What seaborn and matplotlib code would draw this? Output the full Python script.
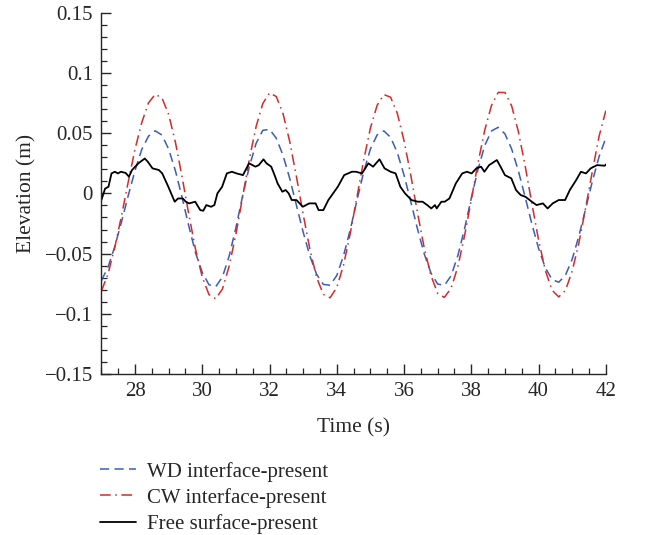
import matplotlib
matplotlib.use("Agg")
import matplotlib.pyplot as plt
from matplotlib.ticker import MultipleLocator
import pandas as pd
import seaborn as sns

# time grid of the two interface series (s)
t_wave = [27.0 + 0.2 * i for i in range(76)]

wd_interface = [
    -0.0725, -0.061, -0.044, -0.0234, -0.0016, 0.019, 0.0365, 0.0475, 0.052, 0.0485,
    0.0368, 0.0189, -0.0034, -0.0272, -0.0494, -0.0657, -0.0759, -0.0775, -0.0694, -0.052,
    -0.0285, -0.0021, 0.0223, 0.0415, 0.0524, 0.0532, 0.0459, 0.0317, 0.0125, -0.0099,
    -0.0321, -0.0521, -0.0672, -0.0756, -0.0763, -0.0682, -0.0518, -0.0302, -0.0058, 0.0177,
    0.0369, 0.0486, 0.0519, 0.0466, 0.0339, 0.0152, -0.0068, -0.0295, -0.0502, -0.0661,
    -0.0753, -0.0764, -0.0684, -0.0517, -0.0293, -0.0039, 0.020, 0.0398, 0.0519, 0.0549,
    0.0495, 0.0369, 0.0187, -0.0028, -0.0252, -0.0456, -0.0617, -0.0715, -0.0738, -0.068,
    -0.0547, -0.0353, -0.0129, 0.010, 0.0305, 0.046,
]

cw_interface = [
    -0.0812, -0.0666, -0.0446, -0.0183, 0.0098, 0.0368, 0.0588, 0.0752, 0.0823, 0.0794,
    0.0656, 0.0426, 0.0136, -0.0175, -0.0465, -0.0695, -0.0841, -0.0875, -0.0794, -0.0603,
    -0.0339, -0.0029, 0.0285, 0.0555, 0.0747, 0.0835, 0.0805, 0.0664, 0.0431, 0.0139,
    -0.0173, -0.0465, -0.0698, -0.0839, -0.0867, -0.0782, -0.0596, -0.0334, -0.003, 0.0276,
    0.0543, 0.0732, 0.0821, 0.0799, 0.0665, 0.0437, 0.0152, -0.0161, -0.0452, -0.0682,
    -0.0831, -0.0864, -0.0787, -0.0609, -0.0351, -0.0053, 0.0254, 0.0526, 0.073, 0.0839,
    0.0838, 0.0727, 0.0514, 0.0231, -0.0082, -0.0386, -0.0638, -0.0803, -0.086, -0.0806,
    -0.0646, -0.0411, -0.012, 0.0183, 0.0474, 0.0687,
]

t_free = [
    27.00, 27.11, 27.21, 27.30, 27.40, 27.49, 27.58, 27.72, 27.82, 27.91,
    28.10, 28.29, 28.38, 28.52, 28.71, 28.81, 28.99, 29.18, 29.28, 29.42,
    29.51, 29.61, 29.79, 29.94, 30.03, 30.12, 30.26, 30.36, 30.45, 30.59,
    30.73, 30.88, 31.02, 31.21, 31.39, 31.58, 31.68, 31.82, 31.91, 32.05,
    32.15, 32.24, 32.38, 32.48, 32.57, 32.66, 32.80, 32.99, 33.18, 33.37,
    33.46, 33.60, 33.75, 33.89, 34.03, 34.22, 34.45, 34.57, 34.75, 34.94,
    35.08, 35.27, 35.42, 35.60, 35.75, 35.89, 36.03, 36.22, 36.41, 36.55,
    36.69, 36.81, 36.92, 36.97, 37.11, 37.21, 37.35, 37.54, 37.73, 37.87,
    38.01, 38.15, 38.29, 38.39, 38.53, 38.76, 38.86, 39.00, 39.19, 39.33,
    39.47, 39.61, 39.80, 39.94, 40.13, 40.27, 40.42, 40.60, 40.79, 40.93,
    41.12, 41.26, 41.41, 41.55, 41.74, 41.97, 42.00,
]

free_surface = [
    -0.0055, 0.004, 0.0055, 0.0166, 0.018, 0.0166, 0.018, 0.017, 0.0139, 0.0194,
    0.025, 0.029, 0.0263, 0.0208, 0.0194, 0.0166, 0.0055, -0.0069, -0.0042, -0.0042,
    -0.0069, -0.0083, -0.0069, -0.0139, -0.0144, -0.0097, -0.0111, -0.0097, 0.0, 0.0055,
    0.0166, 0.018, 0.0166, 0.0152, 0.025, 0.0222, 0.0235, 0.0283, 0.025, 0.0222,
    0.0152, 0.0083, 0.0014, 0.0028, 0.0, -0.0055, -0.0055, -0.0111, -0.0083, -0.0083,
    -0.0139, -0.0139, -0.0055, 0.0, 0.0055, 0.0152, 0.018, 0.018, 0.0166, 0.025,
    0.0222, 0.0283, 0.0208, 0.018, 0.0166, 0.0055, 0.0, -0.0055, -0.0069, -0.0069,
    -0.0097, -0.0125, -0.0097, -0.0125, -0.0069, -0.0069, -0.0042, 0.0083, 0.0166, 0.018,
    0.0166, 0.0208, 0.0222, 0.018, 0.0235, 0.0277, 0.0227, 0.0152, 0.0125, 0.0028,
    -0.0014, -0.0028, -0.0069, -0.0097, -0.0083, -0.0125, -0.0083, -0.0055, -0.0055, 0.0028,
    0.0111, 0.018, 0.0166, 0.0208, 0.0235, 0.023, 0.024,
]

labels = ["WD interface-present", "CW interface-present", "Free surface-present"]
x_ticks = [28, 30, 32, 34, 36, 38, 40, 42]
y_ticks = [-0.15, -0.1, -0.05, 0, 0.05, 0.1, 0.15]
y_tick_labels = ["\u22120.15", "\u22120.1", "\u22120.05", "0", "0.05", "0.1", "0.15"]


def main() -> None:
    sns.set_style("ticks")
    plt.rcParams["font.family"] = ["Liberation Serif", "DejaVu Serif"]
    plt.rcParams["font.size"] = 15

    wave = pd.DataFrame({"t": t_wave, "wd": wd_interface, "cw": cw_interface})
    free = pd.DataFrame({"t": t_free, "eta": free_surface})

    fig = plt.figure(figsize=(6.5, 5.35), dpi=100)
    ax = fig.add_axes([0.156, 0.301, 0.776, 0.675])

    sns.lineplot(data=wave, x="t", y="wd", ax=ax, color="#3b5cb8", lw=1.1,
                 label=labels[0])
    sns.lineplot(data=wave, x="t", y="cw", ax=ax, color="#d42a2a", lw=1.1,
                 label=labels[1])
    sns.lineplot(data=free, x="t", y="eta", ax=ax, color="black", lw=1.3,
                 label=labels[2])
    lines = ax.get_lines()
    lines[0].set_dashes([6, 3.5])
    lines[1].set_dashes([7, 3, 1, 3])

    ax.set_xlim(27, 42)
    ax.set_ylim(-0.15, 0.15)
    ax.set_xticks(x_ticks)
    ax.set_yticks(y_ticks)
    ax.set_yticklabels(y_tick_labels)
    ax.xaxis.set_minor_locator(MultipleLocator(0.5))
    ax.yaxis.set_minor_locator(MultipleLocator(0.01))
    ax.tick_params(which="major", direction="in", length=7, width=1, labelsize=15, pad=6)
    ax.tick_params(which="minor", direction="in", length=4, width=0.9)
    sns.despine(ax=ax)
    for s in ("left", "bottom"):
        ax.spines[s].set_linewidth(1.0)

    ax.set_xlabel("Time (s)", fontsize=15.5, labelpad=12)
    ax.set_ylabel("Elevation (m)", fontsize=15.5, labelpad=6)

    ax.get_legend().remove()
    handles, _ = ax.get_legend_handles_labels()
    fig.legend(handles, labels, loc="upper left", bbox_to_anchor=(0.154, 0.137),
               frameon=False, fontsize=15, handlelength=1.7, handletextpad=0.55,
               labelspacing=0.3, borderaxespad=0, borderpad=0)

    fig.savefig("out.png", dpi=100)
    plt.close(fig)


if __name__ == "__main__":
    main()
